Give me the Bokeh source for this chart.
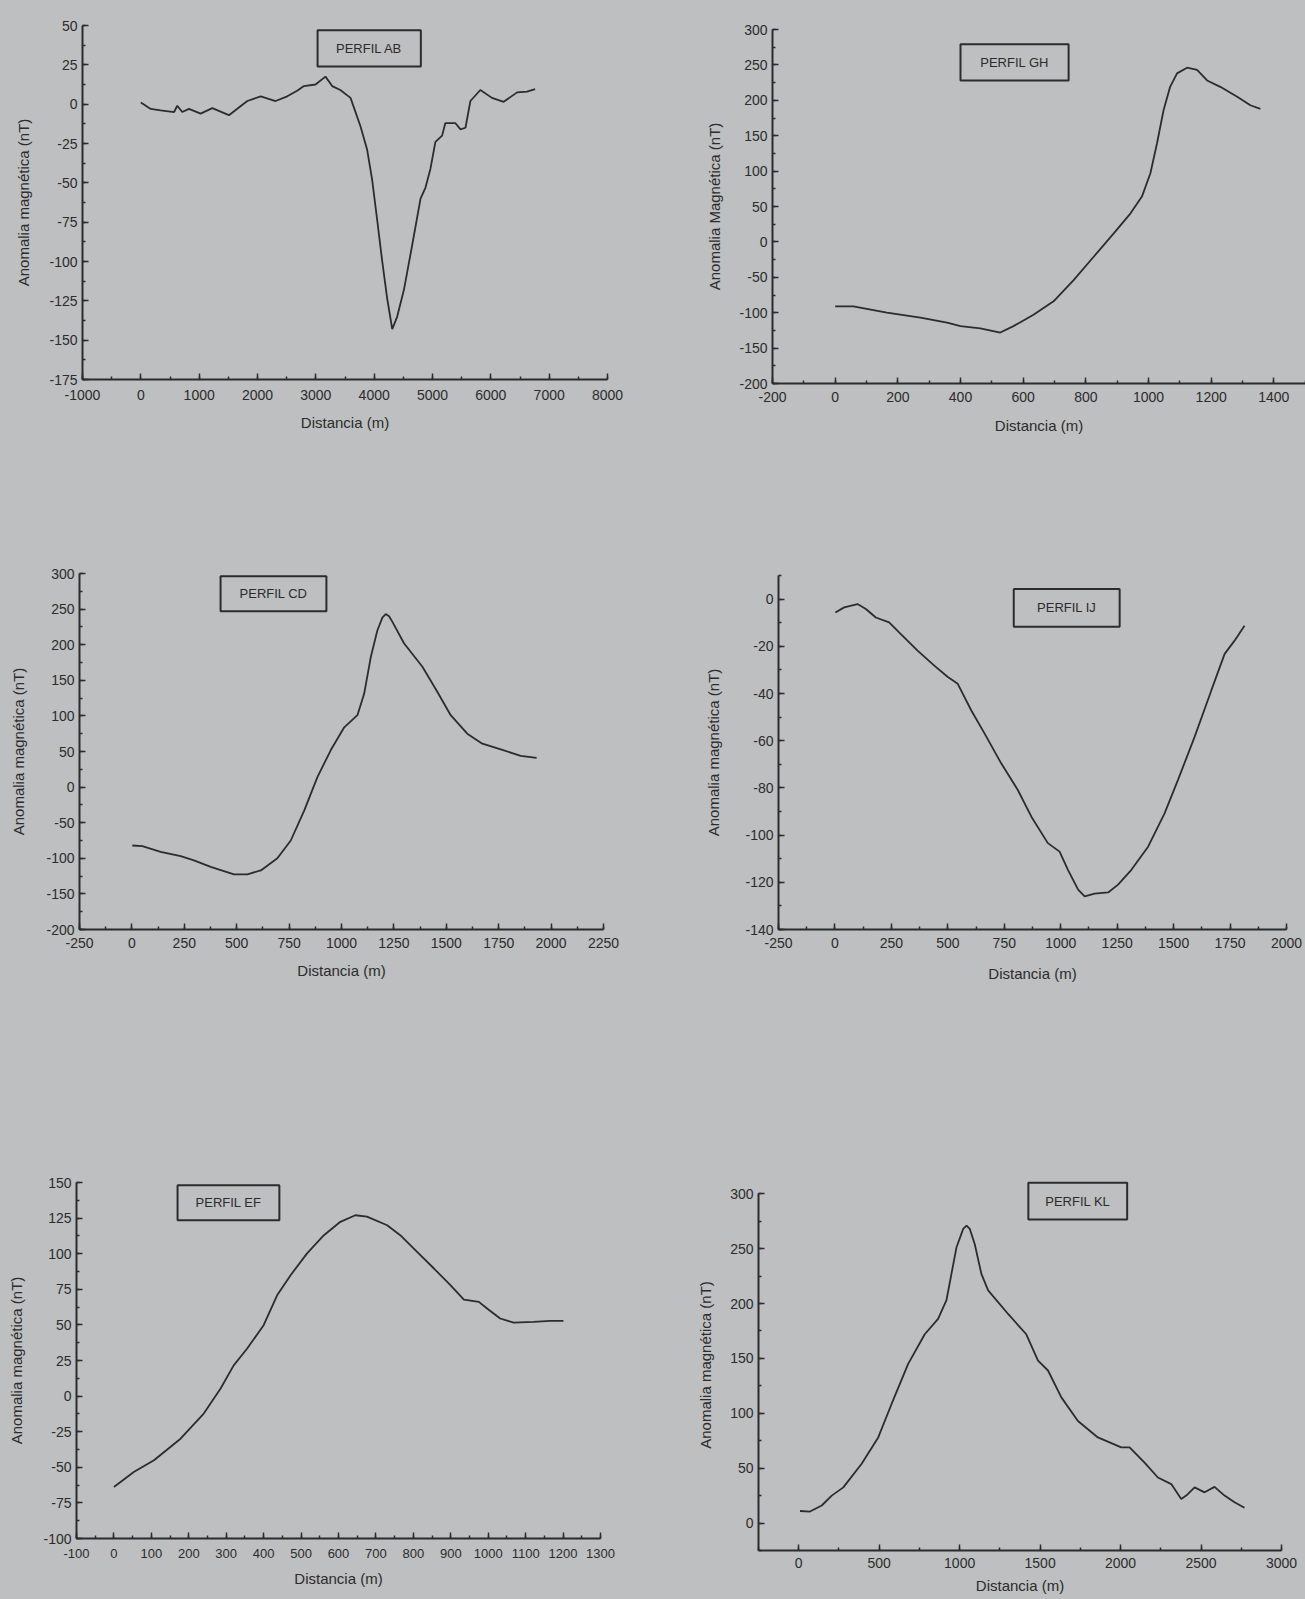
from bokeh.plotting import figure
from bokeh.models import Range1d, SingleIntervalTicker, BoxAnnotation, Label, NumeralTickFormatter
from bokeh.layouts import column, row
from bokeh.embed import file_html
from bokeh.resources import INLINE

BG = "#bdbfc0"
INK = "#2c2c2c"
FONT = "Liberation Sans"

# ---------------- data ----------------
ab_x = [0, 170, 340, 570, 625, 710, 825, 1025, 1225, 1510, 1825, 2055, 2310, 2510, 2680,
        2795, 2995, 3165, 3280, 3420, 3595, 3765, 3880, 3965, 4050, 4135, 4225, 4310, 4395,
        4510, 4650, 4795, 4880, 4965, 5050, 5165, 5220, 5390, 5480, 5565, 5650, 5820, 6020,
        6220, 6450, 6620, 6760]
ab_y = [1, -3, -4, -5, -1, -5, -3, -6, -2.5, -7, 2, 5, 2, 5, 8.5,
        11.5, 12.5, 17.5, 11.5, 9, 4, -14, -29, -48, -73, -99, -124, -143, -135,
        -118, -90, -60, -53, -41, -24, -20, -12, -12, -16, -15, 2, 9, 4,
        1.5, 7.5, 8, 9.5]

gh_x = [0, 58, 165, 272, 357, 400, 463, 527, 569, 633, 697, 761, 825, 889, 942, 979, 1006,
        1027, 1048, 1069, 1091, 1123, 1155, 1187, 1229, 1283, 1325, 1357]
gh_y = [-91, -91, -100, -107, -114, -119, -122, -128, -119, -103, -84, -54, -21, 12, 40, 64, 97,
        139, 186, 219, 238, 246, 243, 228, 219, 205, 193, 188]

cd_x = [2, 50, 137, 233, 296, 376, 487, 551, 615, 694, 758, 822, 885, 949, 1013, 1076, 1108,
        1140, 1171, 1195, 1211, 1227, 1243, 1298, 1386, 1457, 1521, 1600, 1672, 1760, 1855, 1931]
cd_y = [-82, -83, -91, -97, -103, -112, -122.5, -122.5, -117, -100, -75, -33, 14, 52, 84, 101, 131,
        183, 220, 238, 243, 240, 232, 202, 169, 134, 101, 75, 61, 53, 44, 41]

ij_x = [2, 41, 100, 137, 181, 240, 292, 366, 440, 500, 544, 604, 663, 737, 810, 870, 943, 995,
        1032, 1077, 1106, 1150, 1210, 1254, 1313, 1387, 1460, 1519, 1593, 1667, 1726, 1770, 1814]
ij_y = [-5.7, -3.5, -2.1, -4.2, -7.8, -9.9, -14.8, -21.8, -28.2, -33, -35.9, -47.2, -57, -69.7,
        -80.9, -92.2, -103.4, -107, -114.7, -123.1, -126, -124.8, -124.3, -121, -114.7, -104.9,
        -90.8, -76.7, -58.4, -38.7, -23.2, -17.6, -11.3]

ef_x = [0, 53, 107, 178, 240, 285, 320, 356, 400, 436, 472, 516, 561, 605, 645, 676, 730, 765,
        810, 855, 899, 935, 975, 997, 1032, 1068, 1121, 1166, 1201]
ef_y = [-63.8, -53.3, -45.1, -29.9, -12.3, 5.3, 21.6, 33.4, 49.8, 70.8, 84.9, 100.2, 113, 122.4,
        127, 126, 120, 113, 101.3, 89.6, 77.9, 67.8, 66.2, 61.5, 54.5, 51.6, 52.1, 52.8, 52.8]

kl_x = [8, 70, 143, 205, 277, 391, 494, 577, 680, 783, 866, 918, 949, 980, 1022, 1043, 1063, 1094, 1135,
        1177, 1301, 1414, 1487, 1549, 1632, 1735, 1859, 2004, 2056, 2149, 2232, 2315, 2377, 2408,
        2460, 2522, 2584, 2646, 2708, 2770]
kl_y = [11, 10.5, 16, 25, 32.5, 54, 78, 108.5, 145, 172, 186, 203, 227, 251, 268, 271, 268, 254, 227,
        212, 190.5, 172, 148, 139, 114.5, 93, 78, 69, 69, 55, 41.5, 35.5, 22, 25,
        32.5, 28, 33, 25, 19, 14]

titles = ["PERFIL AB", "PERFIL GH", "PERFIL CD", "PERFIL IJ", "PERFIL EF", "PERFIL KL"]
ylabels = ["Anomalia magnética (nT)", "Anomalia Magnética (nT)", "Anomalia magnética (nT)",
           "Anomalia magnética (nT)", "Anomalia magnética (nT)", "Anomalia magnética (nT)"]
xlabel = "Distancia (m)"


def panel(xs, ys, title, ylabel, xr, yr, xstep, ystep, box, geom, ystand, xstand,
          xfont="14px", xlabfont="15px", ybounds=None):
    left, top, fw, fh, right, bottom = geom
    p = figure(width=left + fw + right, height=top + fh + bottom,
               x_range=Range1d(*xr), y_range=Range1d(*yr),
               output_backend="svg", toolbar_location=None,
               min_border_left=left, min_border_right=right,
               min_border_top=top, min_border_bottom=bottom,
               background_fill_color=BG, border_fill_color=BG,
               outline_line_color=None)
    p.grid.visible = False
    p.xaxis.ticker = SingleIntervalTicker(interval=xstep, num_minor_ticks=2)
    p.yaxis.ticker = SingleIntervalTicker(interval=ystep, num_minor_ticks=2)
    if ybounds is not None:
        p.yaxis.bounds = ybounds
    for ax in (p.xaxis, p.yaxis):
        ax.formatter = NumeralTickFormatter(format="0")
        ax.axis_line_color = INK
        ax.axis_line_width = 2
        ax.major_tick_line_color = INK
        ax.major_tick_line_width = 1.5
        ax.minor_tick_line_color = INK
        ax.minor_tick_line_width = 1.5
        ax.major_tick_in = 6
        ax.major_tick_out = 0
        ax.minor_tick_in = 3
        ax.minor_tick_out = 0
        ax.major_label_text_font = FONT
        ax.major_label_text_color = INK
        ax.axis_label_text_font = FONT
        ax.axis_label_text_font_size = "15px"
        ax.axis_label_text_font_style = "normal"
        ax.axis_label_text_color = INK
    p.xaxis.major_label_text_font_size = xfont
    p.xaxis.axis_label_text_font_size = xlabfont
    p.yaxis.major_label_text_font_size = "14px"
    p.xaxis.axis_label = xlabel
    p.yaxis.axis_label = ylabel
    p.xaxis.major_label_standoff = xstand[0]
    p.xaxis.axis_label_standoff = xstand[1]
    p.yaxis.major_label_standoff = 5
    p.yaxis.axis_label_standoff = ystand

    p.line(xs, ys, line_color=INK, line_width=1.8)

    bl, br, bb, bt = box
    p.add_layout(BoxAnnotation(left=bl, right=br, bottom=bb, top=bt,
                               fill_color=None, fill_alpha=0,
                               line_color=INK, line_alpha=1.0, line_width=2))
    p.add_layout(Label(x=(bl + br) / 2, y=(bb + bt) / 2, text=title,
                       text_align="center", text_baseline="middle",
                       text_font=FONT, text_font_size="13px", text_color=INK))
    return p


p_ab = panel(ab_x, ab_y, titles[0], ylabels[0], (-1000, 8000), (-175, 50), 1000, 25,
             (3030, 4800, 24, 47), (82, 25, 525, 354, 43, 91), 14, (10, 11))
p_gh = panel(gh_x, gh_y, titles[1], ylabels[1], (-200, 1501), (-200, 300), 200, 50,
             (400, 745, 228, 279), (122, 29, 533, 354, 0, 87), 13, (8, 12))
p_cd = panel(cd_x, cd_y, titles[2], ylabels[2], (-250, 2250), (-200, 300), 250, 50,
             (423, 928, 247, 296), (79, 103, 524, 356, 47, 131), 16, (8, 11))
p_ij = panel(ij_x, ij_y, titles[3], ylabels[3], (-250, 2000), (-140, 10), 250, 20,
             (792, 1261, -11.7, 4.3), (128, 105, 508, 354, 19, 131), 20, (8, 14))
p_ef = panel(ef_x, ef_y, titles[4], ylabels[4], (-100, 1300), (-100, 150), 100, 25,
             (170, 442, 123.5, 148), (76, 122, 524, 356, 50, 61), 15, (10, 9), xfont="13px")
p_kl = panel(kl_x, kl_y, titles[5], ylabels[5], (-250, 3000), (-25, 313), 500, 50,
             (1427, 2041, 276.6, 310), (108, 119, 523, 371, 24, 49), 13, (7, 6),
             ybounds=(-25, 300))

layout = column(
    row(column(p_ab), column(p_gh)),
    row(column(p_cd), column(p_ij)),
    row(column(p_ef), column(p_kl)),
    styles={"background-color": BG})

open("out.html", "w").write(file_html(layout, INLINE))
